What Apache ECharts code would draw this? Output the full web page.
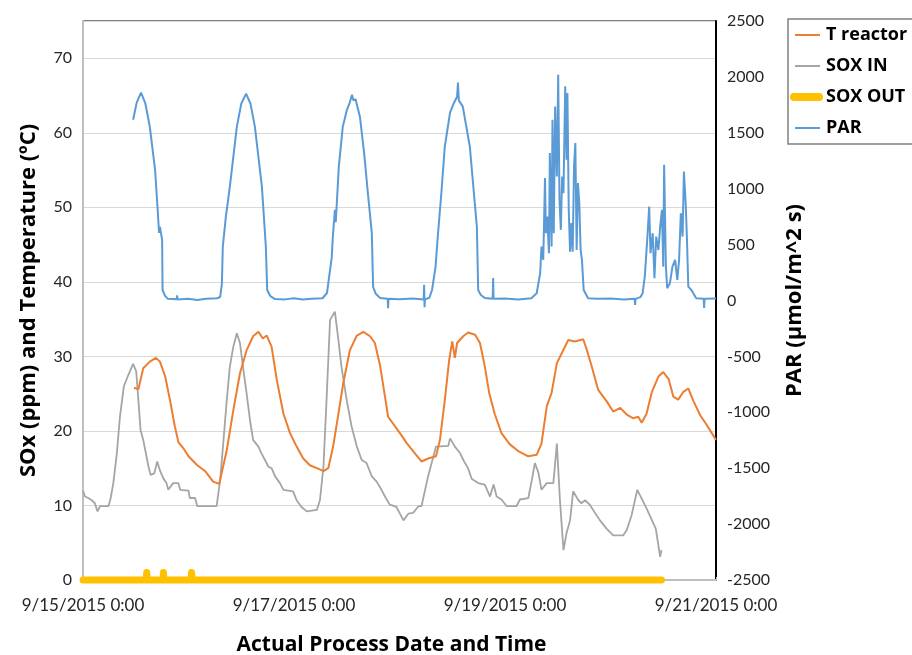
<!DOCTYPE html>
<html>
<head>
<meta charset="utf-8">
<title>SOx, Temperature and PAR</title>
<script src="https://cdn.jsdelivr.net/npm/echarts@6.0.0/dist/echarts.min.js"></script>
<style>
    html, body { margin: 0; padding: 0; background: #fff; }
    #chart { width: 912px; height: 655px; }
</style>
</head>
<body>
<div id="chart"></div>
<script>
// Hours since 9/15/2015 0:00 -> value

// x axis tick labels (every 48 h)
const dateLabels = ["9/15/2015 0:00", "9/17/2015 0:00", "9/19/2015 0:00", "9/21/2015 0:00"]

// T reactor (ºC, left axis)
const tReactor = [
    [11.6, 25.8], [12.6, 25.6], [13.7, 28.4], [15.2, 29.3], [16.6, 29.8], [17.5, 29.3], [18.7, 27.3],
    [19.8, 24.1], [20.9, 20.6], [21.7, 18.5], [22.8, 17.7], [24.0, 16.6], [26.0, 15.4], [27.8, 14.6],
    [29.6, 13.2], [31.0, 12.9], [32.7, 17.4], [34.2, 22.8], [35.7, 27.7], [37.2, 30.8], [38.7, 32.7],
    [39.9, 33.3], [40.9, 32.4], [41.8, 32.8], [42.9, 31.3], [44.1, 26.8], [45.6, 22.3], [47.1, 19.7],
    [48.6, 17.9], [50.1, 16.3], [51.6, 15.4], [53.2, 15.0], [54.7, 14.6], [55.8, 15.0], [56.9, 17.9],
    [58.1, 22.3], [59.2, 26.4], [60.7, 30.8], [62.3, 32.8], [63.8, 33.3], [65.3, 32.7], [66.4, 31.8],
    [67.6, 28.7], [68.7, 24.6], [69.4, 21.9], [72.1, 19.7], [73.6, 18.4], [75.5, 17.0], [77.0, 15.9],
    [78.5, 16.3], [80.3, 16.6], [81.2, 18.8], [82.3, 24.1], [83.3, 29.5], [84.0, 32.0], [84.6, 29.8],
    [85.1, 31.8], [86.5, 32.7], [87.6, 33.2], [89.2, 32.9], [90.3, 31.8], [91.4, 28.7], [92.4, 25.1],
    [93.7, 22.2], [95.2, 19.7], [97.1, 18.2], [99.0, 17.3], [101.3, 16.6], [103.2, 16.8], [104.3, 18.3],
    [105.5, 23.3], [106.6, 25.1], [107.8, 29.1], [109.3, 30.9], [110.4, 32.2], [111.9, 32.0], [113.8, 32.3],
    [114.6, 30.9], [115.7, 28.7], [117.2, 25.5], [119.1, 24.0], [120.6, 22.6], [122.2, 23.1], [123.7, 22.2],
    [125.2, 21.7], [126.3, 21.9], [127.1, 21.1], [128.2, 22.3], [129.4, 25.2], [130.9, 27.3], [132.0, 27.9],
    [133.2, 27.0], [134.3, 24.6], [135.4, 24.2], [136.5, 25.2], [137.7, 25.7], [138.8, 24.1], [140.4, 22.1],
    [141.9, 20.8], [144.0, 18.8]
]

// SOX IN (ppm, left axis)
const soxIn = [
    [0, 12.0], [0.45, 11.2], [1.2, 11.0], [2.0, 10.7], [2.7, 10.3], [3.3, 9.2], [3.9, 9.9], [5.8, 9.9],
    [6.3, 11.0], [6.9, 13.0], [7.7, 17.0], [8.4, 21.9], [9.3, 26.0], [10.3, 27.5], [11.4, 29.0], [12.1, 28.0],
    [12.6, 24.1], [13.1, 20.1], [13.7, 18.8], [14.3, 17.0], [14.9, 15.2], [15.4, 14.1], [16.2, 14.3],
    [16.9, 15.9], [17.5, 14.7], [18.3, 13.6], [19.0, 13.0], [19.4, 12.1], [20.5, 13.0], [21.7, 13.0],
    [22.1, 12.1], [24.0, 12.0], [24.3, 11.0], [25.5, 11.0], [26.0, 9.9], [30.4, 9.9], [31.2, 13.4],
    [31.9, 18.3], [32.7, 24.1], [33.4, 28.6], [34.2, 31.3], [35.0, 33.1], [35.7, 31.8], [36.4, 28.6],
    [37.2, 25.1], [38.0, 21.4], [38.7, 18.8], [39.9, 17.9], [40.6, 17.0], [41.4, 16.1], [42.2, 15.2],
    [42.9, 15.0], [43.7, 13.9], [44.8, 13.0], [45.6, 12.1], [46.7, 12.0], [47.8, 11.9], [48.6, 10.7],
    [49.7, 9.8], [50.9, 9.2], [53.2, 9.4], [53.9, 10.7], [54.7, 15.2], [55.4, 24.1], [56.2, 34.9],
    [57.3, 36.0], [58.1, 32.2], [58.8, 28.6], [60.0, 24.1], [61.1, 20.6], [62.3, 17.9], [63.4, 16.1],
    [64.5, 15.7], [65.7, 13.9], [66.8, 13.2], [67.9, 12.1], [68.7, 11.2], [69.8, 10.1], [71.3, 9.8],
    [72.1, 8.9], [72.9, 8.0], [74.0, 8.9], [75.1, 9.0], [76.3, 9.9], [77.0, 9.9], [78.5, 13.9],
    [80.3, 17.9], [83.1, 18.0], [83.5, 19.0], [84.6, 17.9], [85.8, 17.0], [86.7, 15.9], [87.6, 15.0],
    [88.4, 13.6], [89.9, 13.0], [91.4, 12.8], [92.6, 11.2], [93.4, 12.8], [94.1, 11.2], [95.2, 10.8],
    [96.4, 9.9], [98.6, 9.9], [99.4, 10.8], [101.3, 11.0], [102.1, 13.4], [102.8, 15.7], [103.6, 14.4],
    [104.3, 12.1], [105.5, 13.0], [107.0, 13.0], [107.8, 18.3], [108.5, 10.7], [109.3, 4.0], [110.0, 6.3],
    [110.8, 8.0], [111.5, 11.9], [112.7, 10.7], [113.4, 10.3], [114.2, 10.7], [115.3, 10.1], [116.5, 9.0],
    [117.6, 8.0], [119.1, 6.9], [120.6, 6.0], [122.9, 6.0], [123.7, 6.7], [124.8, 8.7], [126.1, 12.1],
    [128.2, 9.6], [130.3, 6.9], [131.3, 3.1], [131.6, 4.0]
]

// SOX OUT (ppm, left axis)
const soxOut = [
    [0, 0], [14.4, 0], [14.5, 1.0], [14.6, 0], [18.2, 0], [18.3, 1.0], [18.4, 0],
    [24.6, 0], [24.7, 1.0], [24.8, 0], [131.6, 0]
]

// PAR (µmol/m^2 s, right axis)
const par = [
    [11.4, 1617], [12.2, 1767], [13.2, 1859], [14.2, 1760], [15.2, 1554], [16.4, 1169], [17.0, 800],
    [17.3, 605], [17.5, 660], [18.0, 542], [18.1, 94], [18.7, 40], [19.3, 15], [21.3, 12], [21.4, 45],
    [21.5, 10], [24.0, 15], [26.0, 5], [28.0, 15], [30.5, 20],
    [31.2, 31], [31.6, 150], [31.8, 479], [32.5, 750], [33.4, 1017], [35.0, 1555], [36.0, 1760],
    [37.1, 1850], [38.1, 1760], [39.1, 1555], [40.7, 1017], [41.6, 479], [41.9, 94], [42.6, 40],
    [43.7, 13], [46.0, 10], [48.0, 20], [50.0, 8], [52.0, 15], [54.5, 20],
    [55.5, 67], [56.6, 390], [56.8, 550], [57.3, 811], [57.5, 700], [58.2, 1200], [59.1, 1555],
    [60.0, 1700], [60.6, 1760], [61.2, 1841], [61.5, 1790], [62.0, 1800], [63.0, 1644], [64.0, 1300],
    [64.8, 963], [65.7, 605], [66.0, 121], [66.6, 60], [67.6, 22], [69.3, 15], [69.4, -70], [69.5, 15],
    [72.0, 12], [75.0, 18], [77.5, 10], [77.6, 140], [77.7, -60], [77.8, 10], [78.8, 25],
    [79.4, 94], [80.2, 300], [80.7, 569], [81.5, 950], [82.3, 1375], [83.5, 1680], [84.3, 1760],
    [85.1, 1823], [85.3, 1949], [85.5, 1790], [86.4, 1734], [88.0, 1375], [89.6, 659], [89.9, 94],
    [90.5, 50], [91.4, 22], [93.2, 15], [93.3, 200], [93.4, 15], [96.0, 18], [99.0, 10], [102.0, 20],
    [103.2, 64], [104.0, 244], [104.3, 482], [104.7, 363], [105.1, 1095], [105.3, 602], [105.6, 751],
    [106.0, 423], [106.2, 1319], [106.6, 482], [106.8, 1617], [107.1, 602], [107.4, 1736], [107.8, 1109],
    [108.1, 2020], [108.4, 900], [108.7, 632], [109.0, 1109], [109.3, 960], [109.7, 1916], [110.0, 1259],
    [110.2, 1856], [110.5, 811], [110.8, 437], [111.1, 692], [111.4, 437], [111.7, 1199], [112.0, 1408],
    [112.3, 452], [112.6, 1050], [112.9, 871], [113.2, 452], [113.5, 363], [113.9, 94], [114.9, 20],
    [117.0, 15], [120.0, 18], [123.0, 10], [125.5, 15], [125.6, -40], [125.7, 15], [126.8, 30],
    [127.3, 64], [127.8, 213], [128.4, 572], [128.8, 840], [129.1, 423], [129.6, 602], [130.0, 199],
    [130.4, 572], [130.9, 452], [131.3, 661], [131.7, 811], [132.0, 303], [132.2, 1214], [132.6, 303],
    [132.9, 109], [133.5, 154], [134.1, 303], [134.7, 363], [135.2, 184], [135.6, 363], [136.0, 781],
    [136.4, 572], [136.7, 1154], [137.1, 871], [137.4, 542], [137.7, 124], [138.4, 94], [139.5, 20],
    [141.2, 15], [141.3, -67], [141.4, 15], [144.0, 18]
]

const colors = {
    tReactor: "#ED7D31",
    soxIn: "#A5A5A5",
    soxOut: "#FFC000",
    par: "#5B9BD5",
}

const FONT = "Lato, 'Open Sans', sans-serif"
const TITLE_FONT = "'Open Sans', Lato, sans-serif"

document.addEventListener("DOMContentLoaded", () => {
    const chart = echarts.init(document.getElementById("chart"), null, { renderer: "canvas" })

    // legend icons: thin line sample and a thick rounded bar
    const thinIcon = "path://M0,0M33,8M5,3L30,3L30,5L5,5Z"
    const thickIcon = "path://M4,0L29,0A4,4,0,0,1,29,8L4,8A4,4,0,0,1,4,0Z"

    const option = {
        animation: false,
        backgroundColor: "#fff",
        textStyle: { fontFamily: FONT },
        grid: {
            left: 83,
            right: 196,
            top: 21,
            bottom: 75,
            show: true,
            borderColor: "#000",
            borderWidth: 1,
            outerBoundsMode: "none",
        },
        legend: {
            orient: "vertical",
            left: 788,
            top: 19,
            padding: [6, 60, 6, 2],
            itemGap: 11,
            itemWidth: 33,
            itemHeight: 8,
            borderColor: "#808080",
            borderWidth: 1.5,
            textStyle: { fontFamily: TITLE_FONT, fontWeight: "bold", fontSize: 18, color: "#000", lineHeight: 20, padding: [0, 0, 0, -2] },
            data: [
                { name: "T reactor", icon: thinIcon, itemStyle: { color: colors.tReactor } },
                { name: "SOX IN", icon: thinIcon, itemStyle: { color: colors.soxIn } },
                { name: "SOX OUT", icon: thickIcon, itemStyle: { color: colors.soxOut } },
                { name: "PAR", icon: thinIcon, itemStyle: { color: colors.par } },
            ],
        },
        xAxis: [
            {
                type: "value",
                min: 0,
                max: 144,
                interval: 48,
                name: "Actual Process Date and Time",
                nameLocation: "middle",
                nameGap: 55,
                nameTextStyle: { fontFamily: TITLE_FONT, fontWeight: "bold", fontSize: 21, color: "#000", padding: [0, 16, 0, 0] },
                axisLine: { show: true, lineStyle: { color: "#BFBFBF", width: 2 } },
                axisTick: { show: true, inside: true, length: 3, lineStyle: { color: "#BFBFBF" } },
                splitLine: { show: false },
                axisLabel: {
                    fontFamily: FONT,
                    fontSize: 17,
                    color: "#262626",
                    margin: 17,
                    formatter: (v) => dateLabels[Math.round(v / 48)] || "",
                },
            },
        ],
        yAxis: [
            {
                type: "value",
                min: 0,
                max: 75,
                interval: 10,
                name: "SOx (ppm) and Temperature (ºC)",
                nameLocation: "middle",
                nameGap: 43,
                nameTextStyle: { fontFamily: TITLE_FONT, fontWeight: "bold", fontSize: 22, color: "#000" },
                axisLine: { show: true, lineStyle: { color: "#BFBFBF", width: 2 } },
                axisTick: { show: false },
                splitLine: { show: true, lineStyle: { color: "#D9D9D9", width: 1 } },
                axisLabel: {
                    fontFamily: FONT,
                    fontSize: 16,
                    color: "#262626",
                    margin: 11,
                    formatter: (v) => (v > 70 ? "" : String(v)),
                },
            },
            {
                type: "value",
                min: -2500,
                max: 2500,
                interval: 500,
                position: "right",
                name: "PAR (µmol/m^2 s)",
                nameLocation: "middle",
                nameGap: 68,
                nameTextStyle: { fontFamily: TITLE_FONT, fontWeight: "bold", fontSize: 22, color: "#000" },
                axisLine: { show: true, lineStyle: { color: "#000", width: 2 } },
                axisTick: { show: false },
                splitLine: { show: false },
                axisLabel: {
                    fontFamily: FONT,
                    fontSize: 16,
                    color: "#262626",
                    margin: 11,
                    formatter: (v) => String(v),
                },
            },
        ],
        series: [
            {
                name: "T reactor",
                type: "line",
                yAxisIndex: 0,
                data: tReactor,
                showSymbol: false,
                symbol: "none",
                lineStyle: { color: colors.tReactor, width: 2 },
                itemStyle: { color: colors.tReactor },
                z: 4,
            },
            {
                name: "SOX IN",
                type: "line",
                yAxisIndex: 0,
                data: soxIn,
                showSymbol: false,
                symbol: "none",
                lineStyle: { color: colors.soxIn, width: 1.8 },
                itemStyle: { color: colors.soxIn },
                z: 3,
            },
            {
                name: "SOX OUT",
                type: "line",
                yAxisIndex: 0,
                data: soxOut,
                showSymbol: false,
                symbol: "none",
                clip: false,
                lineStyle: { color: colors.soxOut, width: 7, cap: "round", join: "round" },
                itemStyle: { color: colors.soxOut },
                z: 5,
            },
            {
                name: "PAR",
                type: "line",
                yAxisIndex: 1,
                data: par,
                showSymbol: false,
                symbol: "none",
                lineStyle: { color: colors.par, width: 2 },
                itemStyle: { color: colors.par },
                z: 2,
            },
        ],
    }

    chart.setOption(option)

    window.addEventListener("resize", () => {
        chart.resize()
    })
})
</script>
</body>
</html>
